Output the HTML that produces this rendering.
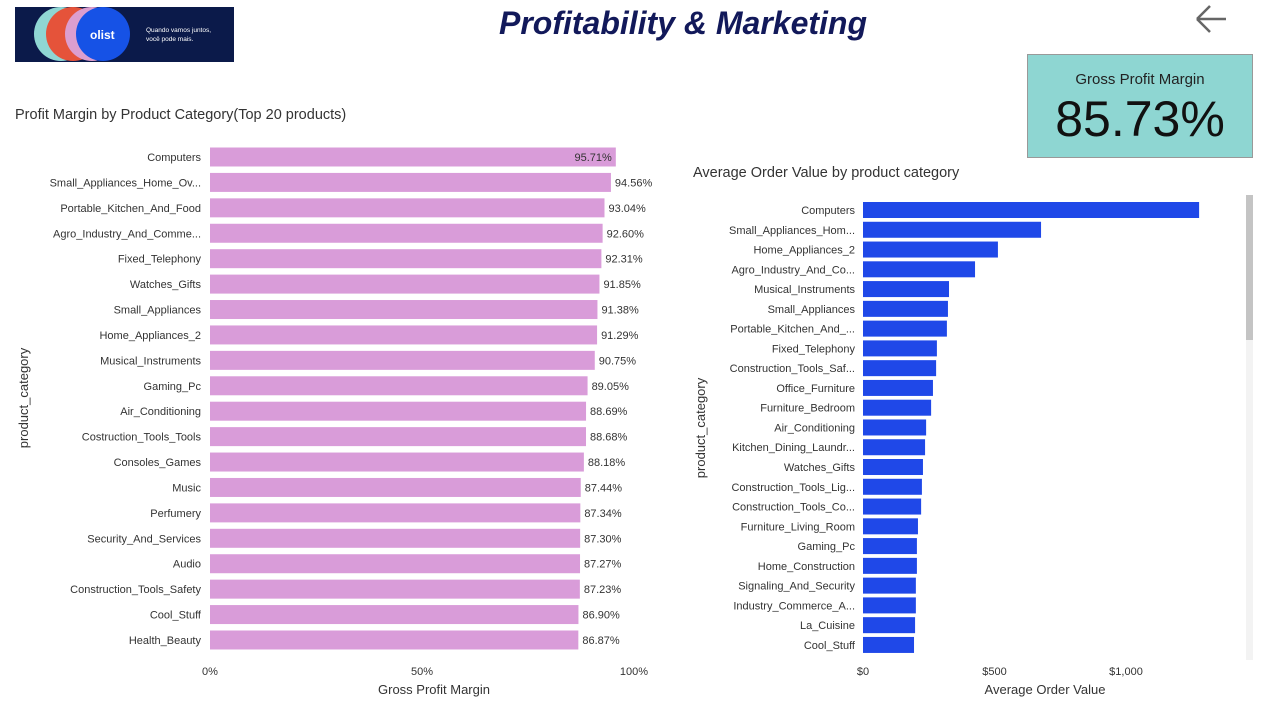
<!DOCTYPE html>
<html><head><meta charset="utf-8"><style>
body{margin:0;width:1270px;height:701px;background:#fff;font-family:"Liberation Sans","DejaVu Sans",sans-serif;position:relative;overflow:hidden}
.abs{position:absolute}
</style></head><body>
<div class="abs" style="left:15px;top:7px;width:219px;height:55px;background:#0b1a4a;overflow:hidden">
<svg width="219" height="55">
<circle cx="46" cy="27" r="27" fill="#8fd6d3"/><circle cx="58" cy="27" r="27" fill="#e5533a"/><circle cx="77" cy="27" r="27" fill="#dc9ecf"/><circle cx="88" cy="27" r="27" fill="#1652e6"/>
<text x="75" y="32" fill="#fff" font-size="12" font-weight="bold" font-family="Liberation Sans">olist</text>
<text x="131" y="25" fill="#fff" font-size="6.5" font-family="Liberation Sans">Quando vamos juntos,</text>
<text x="131" y="34" fill="#fff" font-size="6.5" font-family="Liberation Sans">você pode mais.</text>
</svg></div>
<div class="abs" style="left:400px;top:5px;width:566px;text-align:center;font-size:32px;font-weight:bold;font-style:italic;color:#12195a">Profitability &amp; Marketing</div>
<svg class="abs" style="left:1193px;top:3px" width="36" height="32"><path d="M4 16 H33 M4 16 L17 3 M4 16 L17 29" stroke="#666" stroke-width="2.5" fill="none"/></svg>
<div class="abs" style="left:1027px;top:54px;width:224px;height:102px;background:#8ed6d2;border:1px solid #999">
<div style="text-align:center;margin-top:16px;font-size:15px;color:#222">Gross Profit Margin</div>
<div style="text-align:center;margin-top:2px;font-size:50px;color:#111">85.73%</div></div>
<div class="abs" style="left:15px;top:107px;font-size:14.5px;color:#333">Profit Margin by Product Category(Top 20 products)</div>
<div class="abs" style="left:693px;top:165px;font-size:14.5px;color:#333">Average Order Value by product category</div>
<svg class="abs" id="left" style="left:0;top:0" width="680" height="701"></svg>
<svg class="abs" id="right" style="left:680px;top:0" width="590" height="701"></svg>
<script>
const lCats=["Computers","Small_Appliances_Home_Ov...","Portable_Kitchen_And_Food","Agro_Industry_And_Comme...","Fixed_Telephony","Watches_Gifts","Small_Appliances","Home_Appliances_2","Musical_Instruments","Gaming_Pc","Air_Conditioning","Costruction_Tools_Tools","Consoles_Games","Music","Perfumery","Security_And_Services","Audio","Construction_Tools_Safety","Cool_Stuff","Health_Beauty"];
const lVals=[95.71,94.56,93.04,92.60,92.31,91.85,91.38,91.29,90.75,89.05,88.69,88.68,88.18,87.44,87.34,87.30,87.27,87.23,86.90,86.87];
const lTicks=[0,50,100];
const rCats=["Computers","Small_Appliances_Hom...","Home_Appliances_2","Agro_Industry_And_Co...","Musical_Instruments","Small_Appliances","Portable_Kitchen_And_...","Fixed_Telephony","Construction_Tools_Saf...","Office_Furniture","Furniture_Bedroom","Air_Conditioning","Kitchen_Dining_Laundr...","Watches_Gifts","Construction_Tools_Lig...","Construction_Tools_Co...","Furniture_Living_Room","Gaming_Pc","Home_Construction","Signaling_And_Security","Industry_Commerce_A...","La_Cuisine","Cool_Stuff"];
const rVals=[1278,677,513,426,327,323,319,281,278,266,259,240,236,228,224,221,209,205,205,201,201,198,194];
const rTicks=[0,500,1000];
const NS="http://www.w3.org/2000/svg";
function mk(p,t,a,txt){const e=document.createElementNS(NS,t);for(const k in a)e.setAttribute(k,a[k]);if(txt!==undefined)e.textContent=txt;p.appendChild(e);return e;}
const L=document.getElementById('left');
const lx=v=>210+v*4.24, ly=i=>157+i*25.42;
lCats.forEach((c,i)=>{
 const t=mk(L,'text',{x:201,y:ly(i)+4,'text-anchor':'end','font-size':11,fill:'#333'},c);
 
 
 const r=mk(L,'rect',{x:210,y:ly(i)-9.5,width:lx(lVals[i])-210,height:19,fill:'#d99cd9'});
 
 
 const inside=i===0;
 const v=mk(L,'text',{x:inside?lx(lVals[i])-4:lx(lVals[i])+4,y:ly(i)+4,'text-anchor':inside?'end':'start','font-size':11,fill:'#333'},lVals[i].toFixed(2)+'%');
 
 
});
lTicks.forEach(t=>{const e=mk(L,'text',{x:lx(t),y:675,'text-anchor':'middle','font-size':11,fill:'#333'},t+'%');
 
 });
let e=mk(L,'text',{x:434,y:694,'text-anchor':'middle','font-size':13,fill:'#333'},'Gross Profit Margin');


e=mk(L,'text',{x:0,y:0,transform:'translate(28,398) rotate(-90)','text-anchor':'middle','font-size':13,fill:'#333'},'product_category');


const R=document.getElementById('right');
const rx=v=>183+v*0.263, ry=i=>210+i*19.77;
rCats.forEach((c,i)=>{
 const t=mk(R,'text',{x:175,y:ry(i)+4,'text-anchor':'end','font-size':11,fill:'#333'},c);
 
 
 const r=mk(R,'rect',{x:183,y:ry(i)-8,width:rx(rVals[i])-183,height:16,fill:'#1f48e8'});
 
 
});
rTicks.forEach(t=>{const e=mk(R,'text',{x:rx(t),y:675,'text-anchor':'middle','font-size':11,fill:'#333'},'$'+t.toLocaleString('en-US'));
 
 });
e=mk(R,'text',{x:365,y:694,'text-anchor':'middle','font-size':13,fill:'#333'},'Average Order Value');


e=mk(R,'text',{x:0,y:0,transform:'translate(25,428) rotate(-90)','text-anchor':'middle','font-size':13,fill:'#333'},'product_category');


e=mk(R,'rect',{x:566,y:195,width:7,height:465,fill:'#f3f3f3'});


e=mk(R,'rect',{x:566,y:195,width:7,height:145,fill:'#c4c4c4'});


</script>
</body></html>
